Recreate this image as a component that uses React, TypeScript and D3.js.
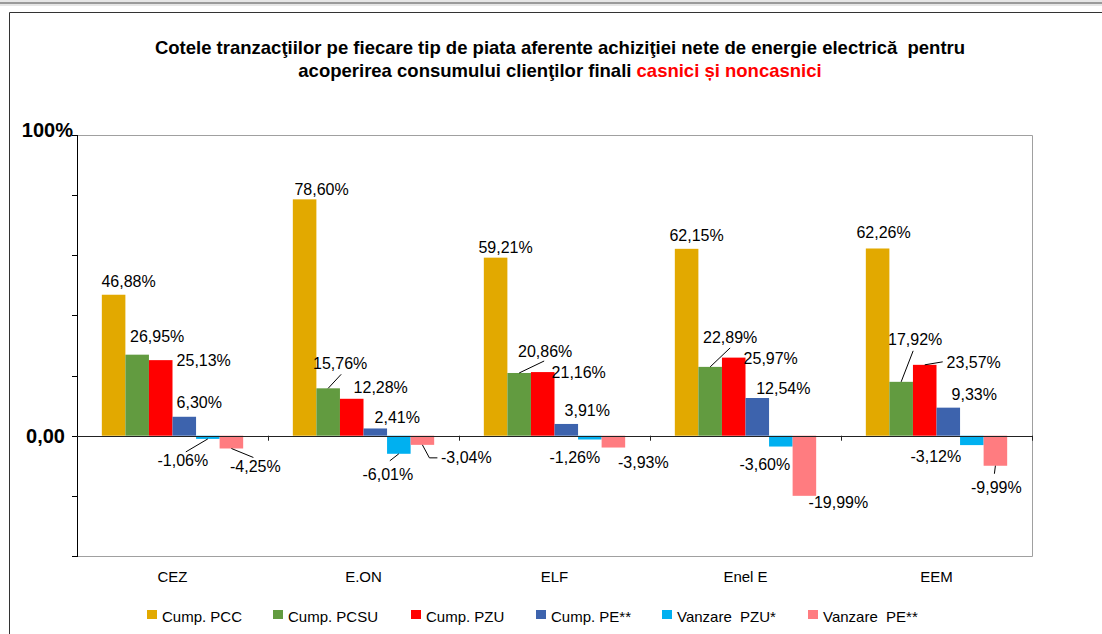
import React from 'react';
import * as d3 from 'd3';

const categories = ['CEZ', 'E.ON', 'ELF', 'Enel E', 'EEM'];
const seriesNames = ['Cump. PCC', 'Cump. PCSU', 'Cump. PZU', 'Cump. PE**', 'Vanzare  PZU*', 'Vanzare  PE**'];
const seriesColors = ['#E2A900', '#629B40', '#FF0000', '#3D63AD', '#00B0F0', '#FF7C80'];

const cumpPCC = [46.88, 78.6, 59.21, 62.15, 62.26];
const cumpPCSU = [26.95, 15.76, 20.86, 22.89, 17.92];
const cumpPZU = [25.13, 12.28, 21.16, 25.97, 23.57];
const cumpPE = [6.3, 2.41, 3.91, 12.54, 9.33];
const vanzarePZU = [-1.06, -6.01, -1.26, -3.6, -3.12];
const vanzarePE = [-4.25, -3.04, -3.93, -19.99, -9.99];
const seriesValues = [cumpPCC, cumpPCSU, cumpPZU, cumpPE, vanzarePZU, vanzarePE];

const yTicks = [-40, -20, 0, 20, 40, 60, 80, 100];
const yTickLabels: Record<number, string> = { 0: '0,00', 100: '100%' };

// label placement (dx from bar centre, dy of baseline from bar end), per series x category
const labelOffsets = [
  [[15, -8], [17, -4], [10, -5], [10, -8], [6, -10]],
  [[20, -13], [12, -19], [26, -16], [20, -24], [14, -37]],
  [[43, 6], [29, -6], [36, 6], [37, 6], [49, 3]],
  [[15, -9], [22, -5], [21, -8], [26, -4], [26, -8]],
  [[-25, 27], [-11, 26], [-15, 23], [-16, 23], [-36, 17]],
  [[24, 24], [44, 18], [30, 20], [34, 12], [1, 27]],
];

// leader lines: series, category, point near label (relative to label anchor), elbow
const leaders = [
  { s: 1, c: 1, lx: 1, ly: 5, elbow: false },
  { s: 1, c: 2, lx: -1, ly: 4, elbow: false },
  { s: 1, c: 3, lx: 0, ly: 5, elbow: false },
  { s: 1, c: 4, lx: -2, ly: 6, elbow: false },
  { s: 2, c: 4, lx: -31, ly: -6, elbow: false },
  { s: 4, c: 0, lx: 3, ly: -14, elbow: false },
  { s: 5, c: 0, lx: -2, ly: -15, elbow: false },
  { s: 4, c: 1, lx: 2, ly: -19, elbow: false },
  { s: 5, c: 1, lx: -29, ly: -5, elbow: true },
  { s: 5, c: 4, lx: -2, ly: -19, elbow: false },
];

const legendX = [147, 273, 411, 536, 662, 808];

const W = 1102;
const H = 634;
const left = 77;
const right = 1032;
const top = 135;
const bottom = 556;

const fmt = (v: number) => v.toFixed(2).replace('.', ',') + '%';

export default function App() {
  const x0 = d3.scaleBand<string>().domain(categories).range([left, right]).paddingInner(0.26).paddingOuter(0.13);
  const x1 = d3.scaleBand<number>().domain(d3.range(seriesNames.length)).range([0, x0.bandwidth()]);
  const y = d3.scaleLinear().domain([-40, 100]).range([bottom, top]);
  const step = x0.step();
  const boundaries = d3.range(1, categories.length + 1).map(i => left + step * i);

  const barCx = (s: number, c: number) => (x0(categories[c]) as number) + (x1(s) as number) + x1.bandwidth() / 2;
  const barEnd = (s: number, c: number) => y(seriesValues[s][c]);

  return (
    <svg width={W} height={H} style={{ position: 'fixed', left: 0, top: 0, background: '#fff' }}
      fontFamily="'Liberation Sans', Arial, sans-serif">
      <rect x={0} y={0} width={W} height={6} fill="#E6E6E6" />
      <line x1={0} x2={W} y1={3} y2={3} stroke="#9A9A9A" strokeWidth={2} />
      <line x1={9.5} x2={W} y1={12.5} y2={12.5} stroke="#333" />
      <line x1={9.5} x2={9.5} y1={12.5} y2={H} stroke="#333" />

      <text x={560} y={54} textAnchor="middle" fontWeight="bold" fontSize={18.5} fill="#000" style={{ whiteSpace: 'pre' }}>
        {'Cotele tranzacţiilor pe fiecare tip de piata aferente achiziţiei nete de energie electrică  pentru'}
      </text>
      <text x={560} y={77} textAnchor="middle" fontWeight="bold" fontSize={18.5} fill="#000">
        acoperirea consumului clienţilor finali <tspan fill="#FF0000">casnici și noncasnici</tspan>
      </text>

      {/* plot frame */}
      <path d={`M${left},${top + 0.5}H${right + 0.5}V${bottom + 0.5}H${left}`} fill="none" stroke="#A0A0A0" />

      {/* bars */}
      {seriesValues.map((vals, s) => (
        <g key={s} fill={seriesColors[s]}>
          {vals.map((v, c) => (
            <rect key={c}
              x={(x0(categories[c]) as number) + (x1(s) as number)}
              y={Math.min(y(v), y(0))}
              width={x1.bandwidth()}
              height={Math.abs(y(v) - y(0))} />
          ))}
        </g>
      ))}

      {/* y axis */}
      <line x1={left + 0.5} x2={left + 0.5} y1={top} y2={bottom + 1} stroke="#000" />
      {yTicks.map(t => (
        <line key={t} x1={left - 5} x2={left + 0.5} y1={Math.round(y(t)) + 0.5} y2={Math.round(y(t)) + 0.5} stroke="#000" />
      ))}
      <text x={73} y={137} textAnchor="end" fontWeight="bold" fontSize={20}>{yTickLabels[100]}</text>
      <text x={65} y={443} textAnchor="end" fontWeight="bold" fontSize={20}>{yTickLabels[0]}</text>

      {/* zero line with category ticks */}
      <line x1={left} x2={right + 1} y1={Math.round(y(0)) + 0.5} y2={Math.round(y(0)) + 0.5} stroke="#222" />
      {boundaries.map((b, i) => (
        <line key={i} x1={Math.round(b) + 0.5} x2={Math.round(b) + 0.5} y1={y(0)} y2={y(0) + 5} stroke="#222" />
      ))}

      {/* category labels */}
      {categories.map(c => (
        <text key={c} x={(x0(c) as number) + x0.bandwidth() / 2} y={582} textAnchor="middle" fontSize={15} fill="#000">{c}</text>
      ))}

      {/* leader lines */}
      {leaders.map((l, i) => {
        const [dx, dy] = labelOffsets[l.s][l.c];
        const bx = barCx(l.s, l.c);
        const by = barEnd(l.s, l.c);
        const px = bx + dx + l.lx;
        const py = by + dy + l.ly;
        const d = l.elbow ? `M${bx},${by}L${px - 8},${py}H${px}` : `M${bx},${by}L${px},${py}`;
        return <path key={i} d={d} fill="none" stroke="#000" strokeWidth={1} />;
      })}

      {/* value labels */}
      {seriesValues.map((vals, s) => vals.map((v, c) => {
        const [dx, dy] = labelOffsets[s][c];
        return (
          <text key={`${s}-${c}`} x={barCx(s, c) + dx} y={barEnd(s, c) + dy} textAnchor="middle" fontSize={16} fill="#000">
            {fmt(v)}
          </text>
        );
      }))}

      {/* legend */}
      {seriesNames.map((n, i) => (
        <g key={n} transform={`translate(${legendX[i]},610)`}>
          <rect x={0} y={0} width={10} height={9} fill={seriesColors[i]} />
          <text x={15} y={12} fontSize={15} fill="#000" style={{ whiteSpace: 'pre' }}>{n}</text>
        </g>
      ))}
    </svg>
  );
}
